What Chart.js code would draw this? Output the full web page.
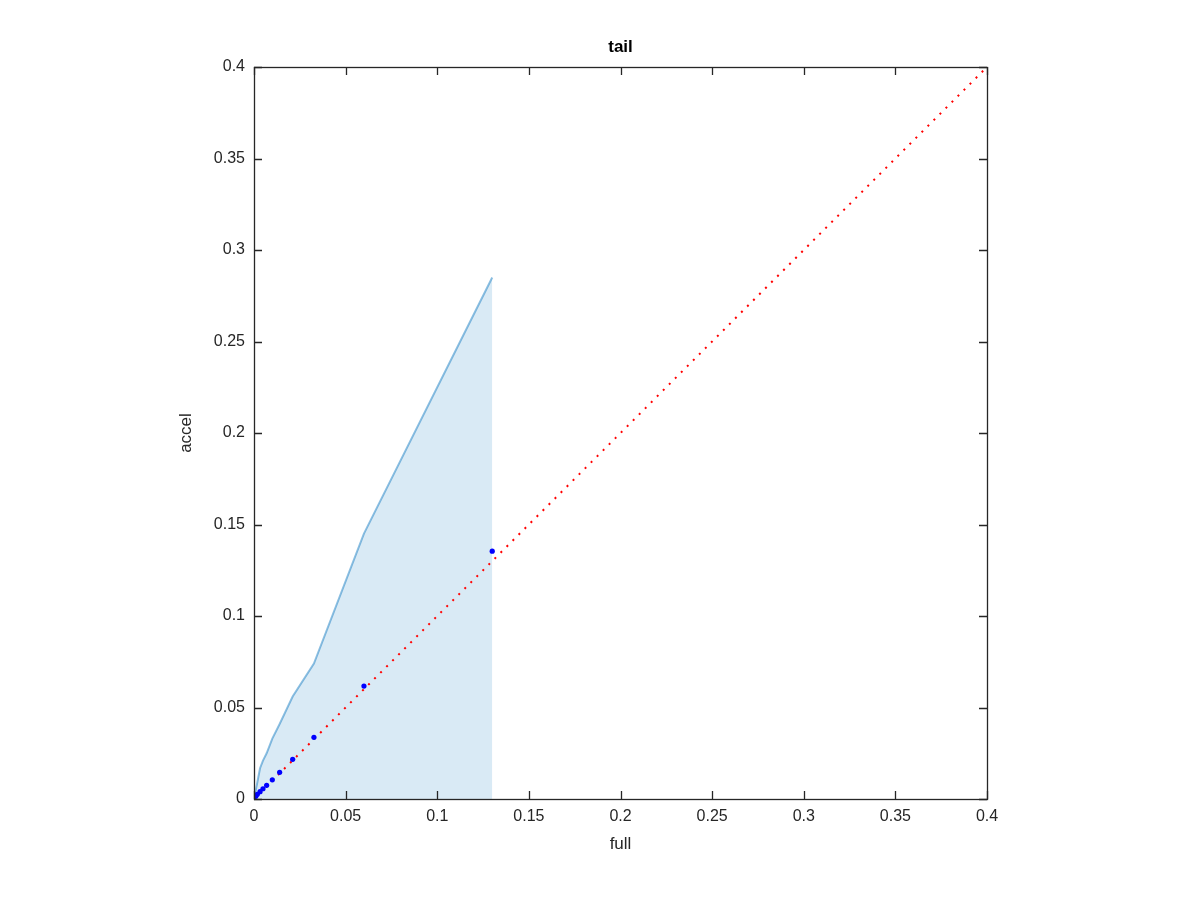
<!DOCTYPE html>
<html>
<head>
<meta charset="utf-8">
<script src="https://cdn.jsdelivr.net/npm/chart.js@4.4.1/dist/chart.umd.min.js"></script>
<style>
    html, body { margin: 0; padding: 0; background: #fff; }
    #wrap { width: 1200px; height: 900px; }
</style>
</head>
<body>
<div id="wrap"><canvas id="tailChart" width="1200" height="900"></canvas></div>
<script>
// values
var fullVals = [0, 0.001, 0.0018, 0.0033, 0.0049, 0.0069, 0.0100, 0.0140, 0.0211, 0.0327, 0.0600, 0.1300];
var accelVals = [0, 0.0015, 0.0026, 0.0040, 0.0056, 0.0075, 0.0105, 0.0146, 0.0217, 0.0337, 0.0617, 0.1354];
var upperVals = [0, 0.005, 0.009, 0.0168, 0.021, 0.025, 0.033, 0.041, 0.056, 0.074, 0.145, 0.285];
var diagX = [0, 0.4];
var tickVals = [0, 0.05, 0.1, 0.15, 0.2, 0.25, 0.3, 0.35, 0.4];
var titleText = 'tail';
var xTitle = 'full';
var yTitle = 'accel';

var textColor = '#262626';
var fontFamily = '"Liberation Sans", Arial, Helvetica, sans-serif';

function pairs(xs, ys) {
    var out = [];
    for (var i = 0; i < xs.length; i++) {
        out.push({x: xs[i], y: ys[i]});
    }
    return out;
}

// box round the plot with inward ticks on all four sides
var boxPlugin = {
    id: 'box',
    afterDraw: function (chart) {
        var ctx = chart.ctx;
        var a = chart.chartArea;
        var xs = chart.scales.x;
        var ys = chart.scales.y;
        var len = 8;
        ctx.save();
        ctx.strokeStyle = textColor;
        ctx.lineWidth = 1.3;
        ctx.beginPath();
        tickVals.forEach(function (v) {
            var px = Math.round(xs.getPixelForValue(v)) + 0.5;
            ctx.moveTo(px, a.bottom);
            ctx.lineTo(px, a.bottom - len);
            ctx.moveTo(px, a.top);
            ctx.lineTo(px, a.top + len);
            var py = Math.round(ys.getPixelForValue(v)) + 0.5;
            ctx.moveTo(a.left, py);
            ctx.lineTo(a.left + len, py);
            ctx.moveTo(a.right, py);
            ctx.lineTo(a.right - len, py);
        });
        ctx.stroke();
        ctx.strokeRect(Math.round(a.left) + 0.5, Math.round(a.top) + 0.5,
            Math.round(a.right - a.left), Math.round(a.bottom - a.top));
        // title
        ctx.fillStyle = '#000';
        ctx.font = 'bold 17px ' + fontFamily;
        ctx.textAlign = 'center';
        ctx.textBaseline = 'middle';
        ctx.fillText(titleText, (a.left + a.right) / 2, 47);
        ctx.restore();
    }
};

var ctx = document.getElementById('tailChart').getContext('2d');
var chart = new Chart(ctx, {
    type: 'scatter',
    data: {
        datasets: [
            {
                label: 'bound',
                type: 'line',
                data: pairs(fullVals, upperVals),
                borderColor: 'rgba(0,114,189,0.45)',
                backgroundColor: 'rgba(0,114,189,0.15)',
                borderWidth: 2,
                pointRadius: 0,
                fill: 'origin',
                order: 3
            },
            {
                label: 'diag',
                type: 'line',
                data: pairs(diagX, diagX),
                borderColor: '#ff0000',
                borderWidth: 2,
                borderDash: [2, 6.5],
                pointRadius: 0,
                fill: false,
                order: 2
            },
            {
                label: 'points',
                data: pairs(fullVals, accelVals),
                backgroundColor: '#0000ff',
                borderColor: '#0000ff',
                pointRadius: 2.6,
                borderWidth: 0,
                order: 1
            }
        ]
    },
    options: {
        responsive: false,
        animation: false,
        layout: {
            padding: {left: 0, top: 67, right: 213, bottom: 0}
        },
        plugins: {
            legend: {display: false},
            tooltip: {enabled: false}
        },
        scales: {
            x: {
                type: 'linear',
                min: 0,
                max: 0.4,
                afterFit: function (scale) { scale.height = 101; },
                afterBuildTicks: function (scale) {
                    scale.ticks = tickVals.map(function (v) { return {value: v}; });
                },
                grid: {display: false, drawTicks: false},
                border: {display: false},
                ticks: {
                    color: textColor,
                    padding: 8,
                    maxRotation: 0,
                    font: {family: fontFamily, size: 16},
                    callback: function (v) { return String(+v.toFixed(2)); }
                },
                title: {
                    display: true,
                    text: xTitle,
                    color: textColor,
                    font: {family: fontFamily, size: 17},
                    padding: {bottom: 45}
                }
            },
            y: {
                type: 'linear',
                min: 0,
                max: 0.4,
                afterFit: function (scale) { scale.width = 254; },
                afterBuildTicks: function (scale) {
                    scale.ticks = tickVals.map(function (v) { return {value: v}; });
                },
                grid: {display: false, drawTicks: false},
                border: {display: false},
                ticks: {
                    color: textColor,
                    padding: 9,
                    font: {family: fontFamily, size: 16},
                    callback: function (v) { return String(+v.toFixed(2)); }
                },
                title: {
                    display: true,
                    text: yTitle,
                    color: textColor,
                    font: {family: fontFamily, size: 17},
                    padding: {top: 176}
                }
            }
        }
    },
    plugins: [boxPlugin]
});
</script>
</body>
</html>
